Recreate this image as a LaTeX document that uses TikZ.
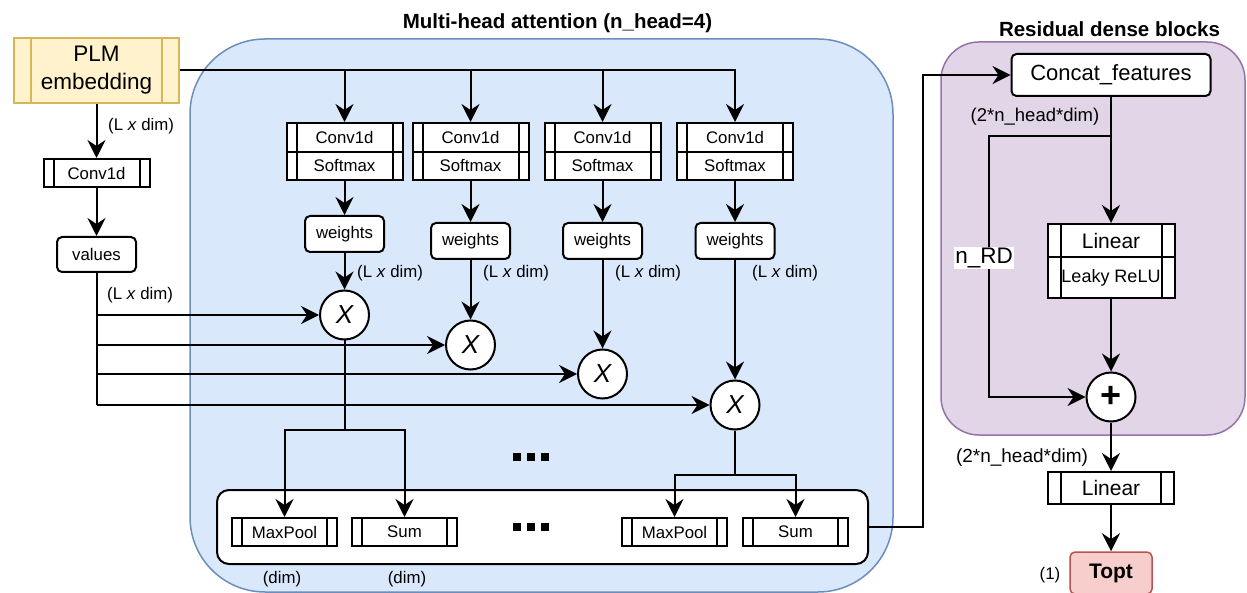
\documentclass[tikz,border=0pt]{standalone}
\usepackage{fontspec}
\setmainfont{Liberation Sans}
\usetikzlibrary{arrows.meta}
\definecolor{bluefill}{HTML}{DAE8FC}
\definecolor{bluestroke}{HTML}{6C8EBF}
\definecolor{purplefill}{HTML}{E1D5E7}
\definecolor{purplestroke}{HTML}{9673A6}
\definecolor{plmfill}{HTML}{FFF2CC}
\definecolor{plmstroke}{HTML}{D6B656}
\definecolor{toptfill}{HTML}{F8CECC}
\definecolor{toptstroke}{HTML}{B85450}
\newcommand\fsz[1]{\fontsize{#1}{#1}\selectfont}
\begin{document}
\begin{tikzpicture}[x=1pt,y=-1pt,
  ln/.style={line width=2pt},
  arr/.style={line width=2pt,-{Stealth[length=18pt,width=18pt,inset=6pt]}},
  box/.style={draw,line width=2pt,fill=white,inner sep=0pt,font=\fsz{16.8}},
  procline/.style={black,line width=2pt},
  proc/.style={box,path picture={
      \draw[procline] ([xshift=#1]path picture bounding box.north west) -- ([xshift=#1]path picture bounding box.south west)
                      ([xshift=-#1]path picture bounding box.north east) -- ([xshift=-#1]path picture bounding box.south east);}},
  proc/.default=10pt,
  rbox/.style={box,rounded corners=5pt},
  mul/.style={circle,draw,line width=2pt,fill=white,minimum size=49pt,inner sep=0pt,font=\fsz{26}\itshape},
  lab/.style={inner sep=0pt,font=\fsz{16.8}},
  ttl/.style={inner sep=0pt,anchor=base,font=\fsz{20.5}\bfseries}
]
\useasboundingbox (0,0) rectangle (1247,593);

% containers
\draw[bluestroke,fill=bluefill,line width=1.5pt,rounded corners=75pt] (190,39) rectangle (893,592);
\draw[purplestroke,fill=purplefill,line width=1.5pt,rounded corners=38pt] (941,42) rectangle (1245,435);

% titles
\node[ttl] (title1) at (557.5,29) {Multi-head attention (n\_head=4)};
\node[ttl] (title2) at (1109.5,37) {Residual dense blocks};

% left column
\node[proc=17pt,procline/.style={plmstroke,line width=1.5pt},draw=plmstroke,line width=1.5pt,fill=plmfill,
      minimum width=165pt,minimum height=65pt,align=center,font=\fontsize{22.5}{28}\selectfont] (plm) at (96.5,70.5) {PLM\\embedding};
\node[proc,minimum width=106pt,minimum height=28pt] (conv) at (96.5,173) {Conv1d};
\node[rbox,minimum width=79pt,minimum height=35pt] (vals) at (96.5,254.5) {values};
\draw[arr] (plm) -- (conv);
\draw[arr] (conv) -- (vals);
\node[lab,anchor=west] (lab0) at (108,126) {(L \textit{x} dim)};
\node[lab,anchor=west] (lab00) at (107,295) {(L \textit{x} dim)};

% heads
\foreach \i/\x/\wy/\cy/\lx in {1/344.5/234/315/357, 2/470.5/241/345/483, 3/602.5/241/374/615, 4/735/241/405/752}{
  \node[proc,minimum width=116pt,minimum height=29pt] (ca\i) at (\x,137.5) {Conv1d};
  \node[proc,minimum width=116pt,minimum height=28pt] (cb\i) at (\x,166) {Softmax};
  \node[rbox,minimum width=79pt,minimum height=36pt] (w\i) at (\x,\wy) {weights};
  \node[mul] (x\i) at (\x,\cy) {X};
  \draw[arr] (cb\i) -- (w\i);
  \draw[arr] (w\i) -- (x\i);
  \node[lab,anchor=west] (l\i) at (\lx,273) {(L \textit{x} dim)};
  \coordinate (t\i) at (96.5,\cy);
}
\draw[arr] (plm.east) -| (ca4.north);
\foreach \i in {1,2,3}{\draw[arr] (ca\i.north |- plm.east) -- (ca\i.north);}

% values trunk
\draw[ln] (vals) -- (t4);
\foreach \i in {1,2,3,4}{\draw[arr] (t\i) -- (x\i);}

% pooling container
\node[draw,line width=2pt,fill=white,rounded corners=12pt,minimum width=651pt,minimum height=74pt,inner sep=0pt] (pool) at (542.5,527) {};
\node[proc,minimum width=105pt,minimum height=28pt] (mp1) at (284.5,532) {MaxPool};
\node[proc,minimum width=105pt,minimum height=28pt] (sm1) at (404.5,532) {Sum};
\node[proc,minimum width=105pt,minimum height=28pt] (mp2) at (674.5,532) {MaxPool};
\node[proc,minimum width=105pt,minimum height=28pt] (sm2) at (795.5,532) {Sum};
\coordinate (j1) at (344.5,430);
\coordinate (j2) at (735,475);
\draw[ln] (x1) -- (j1);
\draw[arr] (j1) -| (mp1);
\draw[arr] (j1) -| (sm1);
\draw[ln] (x4) -- (j2);
\draw[arr] (j2) -| (mp2);
\draw[arr] (j2) -| (sm2);
\node[lab] (d1) at (282,579) {(dim)};
\node[lab] (d2) at (407,579) {(dim)};
\foreach \yy in {457,527}{\foreach \dx in {-14,0,14}{\fill (527+\dx,\yy-4) rectangle ++(8,8);}}

% residual dense blocks
\node[rbox,minimum width=199pt,minimum height=42pt,font=\fsz{22}] (cat) at (1111,75) {Concat\_features};
\coordinate (oc) at (923,527);
\draw[arr] (pool.east |- oc) -- (oc) |- (cat.west);
\node[proc=13pt,minimum width=127pt,minimum height=33pt,font=\fsz{21}] (lin) at (1111,240.5) {Linear};
\node[proc=13pt,minimum width=127pt,minimum height=41pt,font=\fsz{18}] (leaky) at (1111,277.5) {Leaky ReLU};
\node[circle,draw,line width=2pt,fill=white,minimum size=49pt,inner sep=0pt,font=\fsz{36}\bfseries] (plus) at (1111,397) {+};
\draw[arr] (cat) -- (lin);
\draw[arr] (leaky) -- (plus);
\coordinate (b1) at (1111,136);
\coordinate (rd) at (989,397);
\draw[arr] (b1) -| (rd) -- (plus);
\node[fill=white,inner sep=1pt,font=\fsz{22.5}] (nrd) at (984,258) {n\_RD};
\node[lab,font=\fsz{18.5}] (dimA) at (1035,117) {(2*n\_head*dim)};
\node[lab,font=\fsz{19}] (dimB) at (1022,458) {(2*n\_head*dim)};
\node[proc=13pt,minimum width=126pt,minimum height=32pt,font=\fsz{21}] (lin2) at (1111,488) {Linear};
\node[draw=toptstroke,fill=toptfill,line width=1.5pt,rounded corners=5pt,minimum width=82pt,minimum height=42pt,inner sep=0pt,font=\fsz{21}\bfseries] (topt) at (1111,573) {Topt};
\draw[arr] (plus) -- (lin2);
\draw[arr] (lin2) -- (topt);
\node[lab] (one) at (1050,575) {(1)};
\end{tikzpicture}
\end{document}
